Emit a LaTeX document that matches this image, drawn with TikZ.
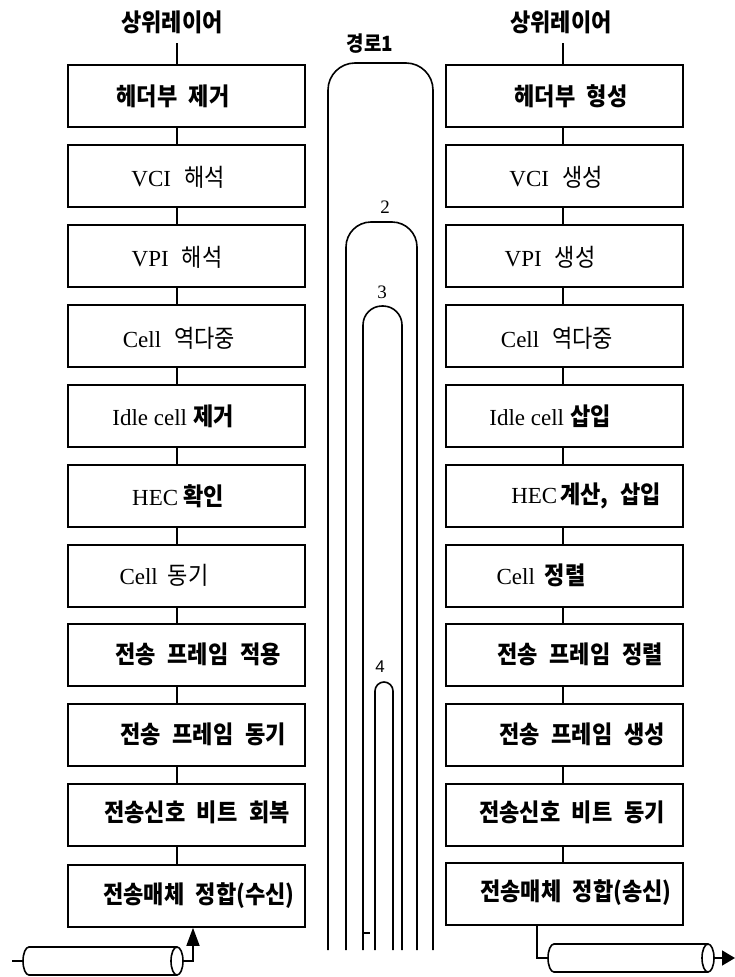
\documentclass[tikz,border=0pt]{standalone}
\usepackage{fontspec}
\setmainfont{Liberation Serif}
\newfontfamily\kr[FakeStretch=0.9,WordSpace=2.3]{Noto Sans CJK KR}
\newfontfamily\lsans{Liberation Sans}
\usetikzlibrary{arrows.meta}
\newcommand\KB[1]{{\kr\bfseries\fontsize{24.5}{27}\selectfont #1}}
\newcommand\KR[1]{{\kr\fontsize{24.5}{27}\selectfont #1}}
\begin{document}
\begin{tikzpicture}[x=1pt,y=-1pt,line width=1.6pt,
  box/.style={draw,line width=1.6pt,minimum width=237pt,minimum height=62pt,inner sep=0pt},
  txt/.style={inner sep=0pt,font=\fontsize{23}{26}\selectfont},
  loopline/.style={line width=1.6pt},
  tipL/.style={-{Triangle[length=18pt,width=13pt]}},
  tipR/.style={-{Triangle[length=13pt,width=15pt]}}]
\useasboundingbox (0,0) rectangle (735,977);
\coordinate (lx) at (177,0);
\coordinate (rx) at (563,0);
\coordinate (lax) at (193,0);
\coordinate (rbx) at (537,0);
% left column boxes
\node[box] (L1) at (186.5,96) {};
\node[box] (L2) at (186.5,176) {};
\node[box] (L3) at (186.5,256) {};
\node[box] (L4) at (186.5,336) {};
\node[box] (L5) at (186.5,416) {};
\node[box] (L6) at (186.5,496) {};
\node[box] (L7) at (186.5,576) {};
\node[box] (L8) at (186.5,655) {};
\node[box] (L9) at (186.5,735) {};
\node[box] (L10) at (186.5,815) {};
\node[box] (L11) at (186.5,896) {};
% right column boxes
\node[box] (R1) at (564.5,96) {};
\node[box] (R2) at (564.5,176) {};
\node[box] (R3) at (564.5,256) {};
\node[box] (R4) at (564.5,336) {};
\node[box] (R5) at (564.5,416) {};
\node[box] (R6) at (564.5,496) {};
\node[box] (R7) at (564.5,576) {};
\node[box] (R8) at (564.5,655) {};
\node[box] (R9) at (564.5,735) {};
\node[box] (R10) at (564.5,815) {};
\node[box] (R11) at (564.5,894) {};
% texts left
\node[txt] (tL1) at (173,96) {\KB{헤더부 제거}};
\node[txt] (tL2) at (178,177) {VCI\hspace{13pt}\KR{해석}};
\node[txt] (tL3) at (177,257) {VPI\hspace{13pt}\KR{해석}};
\node[txt] (tL4) at (179,338) {Cell\hspace{13pt}\KR{역다중}};
\node[txt] (tL5) at (173,416) {Idle cell\hspace{6pt}\KB{제거}};
\node[txt] (tL6) at (178,496) {HEC\hspace{5pt}\KB{확인}};
\node[txt] (tL7) at (164,575) {Cell\hspace{10pt}\KR{동기}};
\node[txt] (tL8) at (198,654) {\KB{전송 프레임 적용}};
\node[txt] (tL9) at (203,734) {\KB{전송 프레임 동기}};
\node[txt] (tL10) at (197,812) {\KB{전송신호 비트 회복}};
\node[txt] (tL11) at (199,896) {\KB{전송매체 정합(수신)}};
% texts right
\node[txt] (tR1) at (571,96) {\KB{헤더부 형성}};
\node[txt] (tR2) at (556,177) {VCI\hspace{13pt}\KR{생성}};
\node[txt] (tR3) at (550,257) {VPI\hspace{13pt}\KR{생성}};
\node[txt] (tR4) at (557,338) {Cell\hspace{13pt}\KR{역다중}};
\node[txt] (tR5) at (550,416) {Idle cell\hspace{6pt}\KB{삽입}};
\node[txt] (tR6) at (586,496) {HEC\hspace{3pt}\KB{계산, 삽입}};
\node[txt] (tR7) at (541,575) {Cell\hspace{10pt}\KB{정렬}};
\node[txt] (tR8) at (580,654) {\KB{전송 프레임 정렬}};
\node[txt] (tR9) at (582,734) {\KB{전송 프레임 생성}};
\node[txt] (tR10) at (572,812) {\KB{전송신호 비트 동기}};
\node[txt] (tR11) at (576,893) {\KB{전송매체 정합(송신)}};
% top labels
\node[txt] (UL) at (172,22) {\KB{상위레이어}};
\node[txt] (UR) at (561,22) {\KB{상위레이어}};
\draw ([yshift=-9pt]UL.south -| lx) -- (L1.north -| lx);
\draw ([yshift=-9pt]UR.south -| rx) -- (R1.north -| rx);
% column connectors
\foreach \a/\b in {1/2,2/3,3/4,4/5,5/6,6/7,7/8,8/9,9/10,10/11}{
  \draw (L\a.south -| lx) -- (L\b.north -| lx);
  \draw (R\a.south -| rx) -- (R\b.north -| rx);
}
% loops (paths)
\foreach \xl/\xr/\t/\r in {328/433/63/27, 346/417/222/25, 363/402/306/19, 375/393/682/9}{
  \draw[loopline] (\xl,950) -- (\xl,\t+\r)
    .. controls (\xl,\t+0.448*\r) and (\xl+0.448*\r,\t) .. (\xl+\r,\t)
    -- (\xr-\r,\t)
    .. controls (\xr-0.448*\r,\t) and (\xr,\t+0.448*\r) .. (\xr,\t+\r)
    -- (\xr,950);
}
\draw[loopline] (363,933) -- (370,933);
\node[txt] (p1) at (370,44) {\KB{\fontsize{21}{23}\selectfont 경로1}};
\node[txt] (p2) at (385,207) {\fontsize{19}{22}\selectfont 2};
\node[txt] (p3) at (382,292) {\fontsize{19}{22}\selectfont 3};
\node[txt] (p4) at (380,667) {\lsans\fontsize{17}{20}\selectfont 4};
% left cable
\draw (177,947) -- (29,947) arc[start angle=270,end angle=90,x radius=6,y radius=14] -- (177,975);
\draw (177,961) ellipse[x radius=6,y radius=14];
\coordinate (LCe) at (183,961);
\coordinate (LCw) at (23,961);
\coordinate (LT) at (12,961);
\draw (LCw) -- (LT);
\draw[tipL] (LCe) -| (L11.south -| lax);
% right cable
\draw (708,944) -- (554,944) arc[start angle=270,end angle=90,x radius=6,y radius=14] -- (708,972);
\draw (708,958) ellipse[x radius=6,y radius=14];
\coordinate (RCw) at (548,958);
\coordinate (RCe) at (714,958);
\coordinate (RT) at (735,958);
\draw (R11.south -| rbx) |- (RCw);
\draw[tipR] (RCe) -- (RT);
\end{tikzpicture}
\end{document}
